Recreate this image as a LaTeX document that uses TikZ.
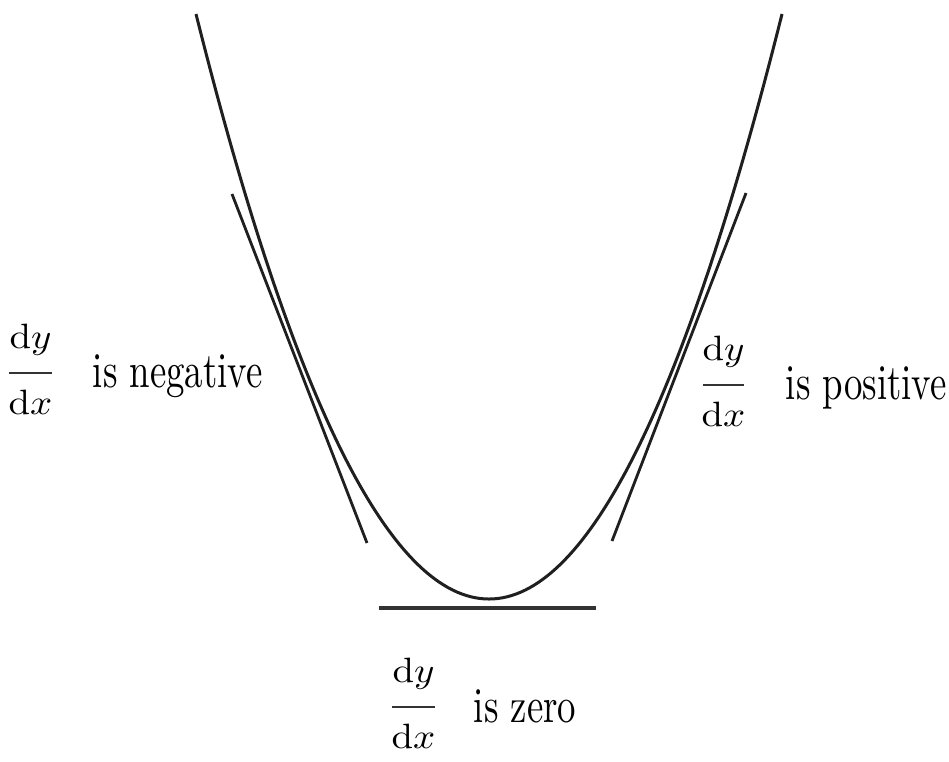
\documentclass[tikz,border=0pt]{standalone}
\usepackage{amsmath}
\begin{document}
\begin{tikzpicture}[x=0.25pt,y=-0.25pt,
  curve/.style={line width=0.75pt, draw=black!88},
  tangent/.style={line width=0.7pt, draw=black!88},
  flat/.style={line width=1.1pt, draw=black!80},
  fracbar/.style={line width=0.7pt, draw=black!80},
  fracpart/.style={inner sep=0pt, anchor=base},
  lbl/.style={inner sep=0pt, anchor=base west}]
\useasboundingbox (0,0) rectangle (949,761);

% parabola
\coordinate (pL) at (196,14);
\coordinate (pR) at (782,14);
\draw[curve] (pL) .. controls (391.3,794) and (586.7,794) .. (pR);

% tangent lines
\coordinate (ltA) at (232,194);
\coordinate (ltB) at (367,543);
\coordinate (rtA) at (746,193);
\coordinate (rtB) at (612,541);
\coordinate (htA) at (379,608);
\coordinate (htB) at (596,608);
\draw[tangent] (ltA) -- (ltB);
\draw[tangent] (rtA) -- (rtB);
\draw[flat] (htA) -- (htB);

% left label
\coordinate (lbarL) at (9,373);
\coordinate (lbarR) at (52,373);
\draw[fracbar] (lbarL) -- (lbarR);
\node[fracpart] (lnum) at (30.5,348) {\scalebox{0.97}[0.88]{$\mathrm{d}y$}};
\node[fracpart] (lden) at (30.5,414) {\scalebox{0.97}[0.88]{$\mathrm{d}x$}};
\node[lbl] (ltext) at (92,387) {\scalebox{0.92}[1.25]{is negative}};

% right label
\coordinate (rbarL) at (703,385);
\coordinate (rbarR) at (744,385);
\draw[fracbar] (rbarL) -- (rbarR);
\node[fracpart] (rnum) at (723.5,360) {\scalebox{0.97}[0.88]{$\mathrm{d}y$}};
\node[fracpart] (rden) at (723.5,426) {\scalebox{0.97}[0.88]{$\mathrm{d}x$}};
\node[lbl] (rtext) at (785,399) {\scalebox{0.92}[1.25]{is positive}};

% bottom label
\coordinate (bbarL) at (392,707);
\coordinate (bbarR) at (435,707);
\draw[fracbar] (bbarL) -- (bbarR);
\node[fracpart] (bnum) at (413.5,682) {\scalebox{0.97}[0.88]{$\mathrm{d}y$}};
\node[fracpart] (bden) at (413.5,748) {\scalebox{0.97}[0.88]{$\mathrm{d}x$}};
\node[lbl] (btext) at (473,722) {\scalebox{0.92}[1.25]{is zero}};
\end{tikzpicture}
\end{document}
